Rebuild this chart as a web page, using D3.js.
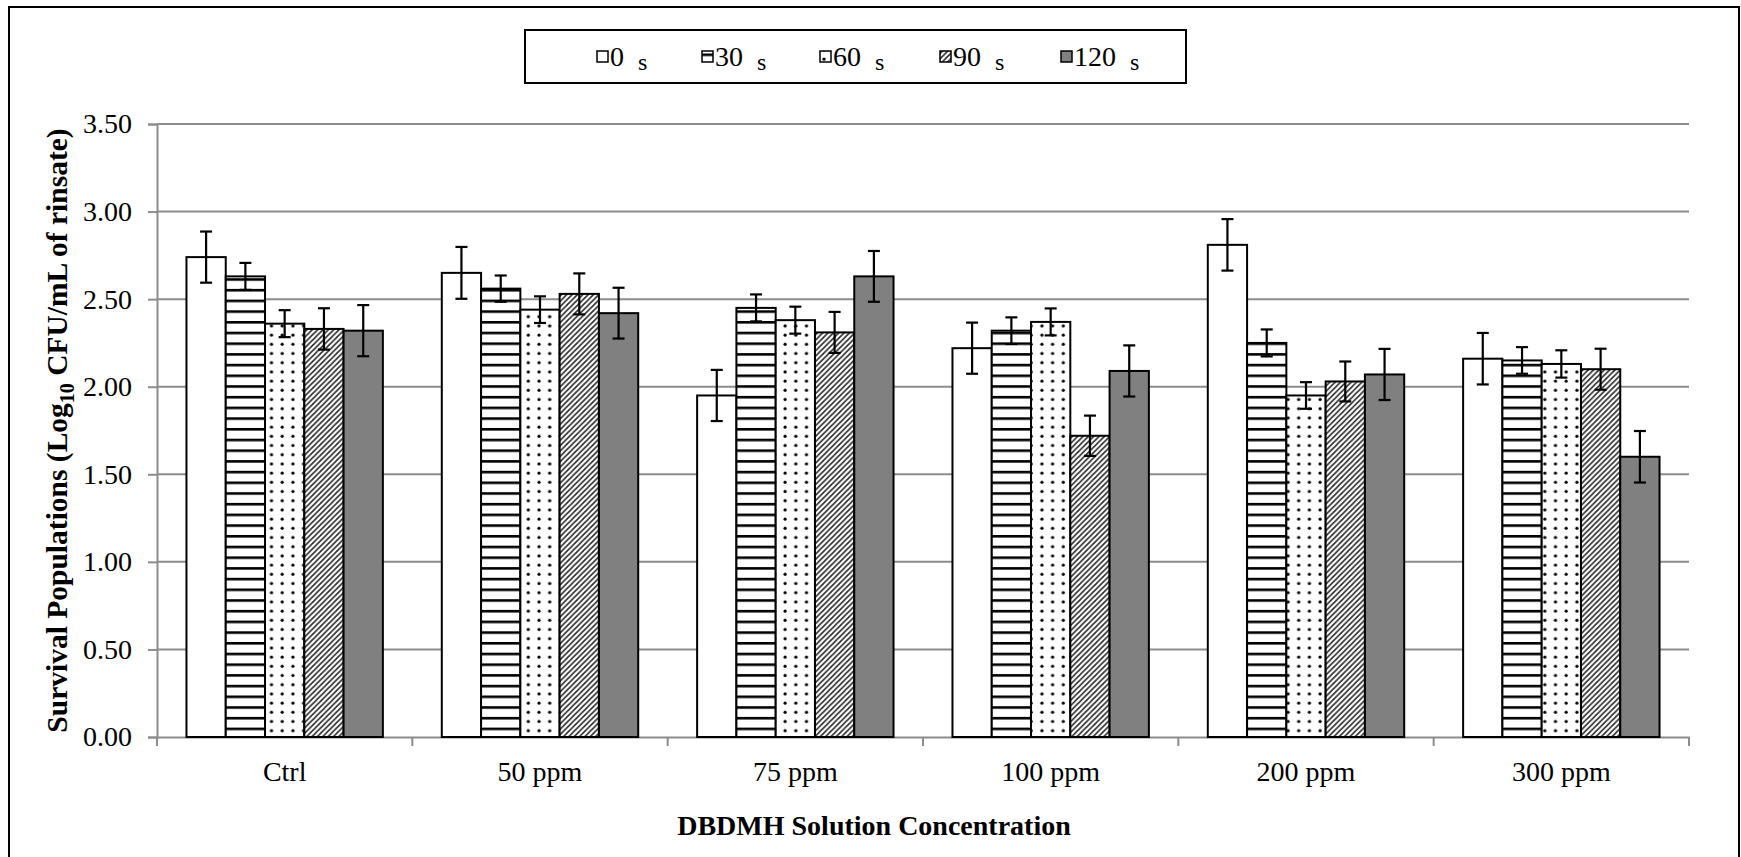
<!DOCTYPE html>
<html>
<head>
<meta charset="utf-8">
<script src="https://cdn.jsdelivr.net/npm/d3@7"></script>
<style>
  body { margin: 0; background: #fff; }
  svg text { font-family: "Liberation Serif", "Tinos", "Times New Roman", "DejaVu Serif", serif !important; }
</style>
</head>
<body>
<svg></svg>
<script>
// data
var categories = ["Ctrl", "50 ppm", "75 ppm", "100 ppm", "200 ppm", "300 ppm"];
var seriesNames = ["0", "30", "60", "90", "120"];
var yTicks = [0, 0.5, 1, 1.5, 2, 2.5, 3, 3.5];

var mean0   = [2.74, 2.65, 1.95, 2.22, 2.81, 2.16];
var mean30  = [2.63, 2.56, 2.45, 2.32, 2.25, 2.15];
var mean60  = [2.36, 2.44, 2.38, 2.37, 1.95, 2.13];
var mean90  = [2.33, 2.53, 2.31, 1.72, 2.03, 2.10];
var mean120 = [2.32, 2.42, 2.63, 2.09, 2.07, 1.60];

var err0   = [0.146, 0.148, 0.146, 0.146, 0.147, 0.147];
var err30  = [0.077, 0.075, 0.077, 0.076, 0.077, 0.076];
var err60  = [0.077, 0.076, 0.077, 0.077, 0.076, 0.078];
var err90  = [0.118, 0.117, 0.117, 0.115, 0.114, 0.117];
var err120 = [0.146, 0.145, 0.145, 0.146, 0.146, 0.147];

var allMeans = [mean0, mean30, mean60, mean90, mean120];
var allErrs = [err0, err30, err60, err90, err120];
var fills = ["#fff", "url(#pHoriz)", "url(#pDots)", "url(#pDiag)", "#808080"];

var serif = "'Liberation Serif', 'Tinos', 'Times New Roman', 'DejaVu Serif', serif";

var width = 1741, height = 857;
var svg = d3.select("svg").attr("width", width).attr("height", height)
    .attr("font-family", serif);

var margin = {left: 157, right: 52, top: 124, bottom: 120};

var x0 = d3.scaleBand()
    .domain(categories)
    .range([margin.left, width - margin.right])
    .paddingInner(0).paddingOuter(0);

var x1 = d3.scaleBand()
    .domain(seriesNames)
    .range([0, x0.bandwidth()])
    .paddingInner(0).paddingOuter(0.75);

var y = d3.scaleLinear()
    .domain([0, 3.5])
    .range([height - margin.bottom, margin.top]);

// patterns
var defs = svg.append("defs");

var ph = defs.append("pattern").attr("id", "pHoriz")
    .attr("patternUnits", "userSpaceOnUse").attr("width", 10).attr("height", 10.7);
ph.append("rect").attr("width", 10).attr("height", 10.7).attr("fill", "#fff");
ph.append("rect").attr("y", 0).attr("width", 10).attr("height", 2.6).attr("fill", "#000");

var pd = defs.append("pattern").attr("id", "pDots")
    .attr("patternUnits", "userSpaceOnUse").attr("width", 10.7).attr("height", 9.2);
pd.append("rect").attr("width", 10.7).attr("height", 9.2).attr("fill", "#fff");
pd.append("circle").attr("cx", 4).attr("cy", 4).attr("r", 1.6).attr("fill", "#000");

var pg = defs.append("pattern").attr("id", "pDiag")
    .attr("patternUnits", "userSpaceOnUse").attr("width", 5.35).attr("height", 5.35);
pg.append("rect").attr("width", 5.35).attr("height", 5.35).attr("fill", "#fff");
pg.append("path")
    .attr("d", "M-1.34,1.34 L1.34,-1.34 M0,5.35 L5.35,0 M4,6.69 L6.69,4")
    .attr("stroke", "#222").attr("stroke-width", 1.5);

// outer frame
svg.append("rect")
    .attr("x", 9).attr("y", 7)
    .attr("width", 1730).attr("height", 880)
    .attr("fill", "none").attr("stroke", "#000").attr("stroke-width", 2);

// gridlines
svg.append("g").selectAll("line")
    .data(yTicks.filter(d => d > 0))
    .join("line")
    .attr("x1", margin.left).attr("x2", width - margin.right)
    .attr("y1", d => y(d)).attr("y2", d => y(d))
    .attr("stroke", "#8c8c8c").attr("stroke-width", 2);

// y axis
var yAxis = svg.append("g")
    .attr("transform", "translate(" + margin.left + ",0)")
    .call(d3.axisLeft(y).tickValues(yTicks).tickFormat(d3.format(".2f")).tickSize(9).tickPadding(16))
    .attr("font-family", serif).attr("font-size", 28);
yAxis.select(".domain").attr("stroke", "#8c8c8c").attr("stroke-width", 2);
yAxis.selectAll(".tick line").attr("stroke", "#8c8c8c").attr("stroke-width", 2);
yAxis.selectAll(".tick text").attr("fill", "#000");

// x axis
var xAxis = svg.append("g")
    .attr("transform", "translate(0," + y(0) + ")")
    .call(d3.axisBottom(x0).tickSize(0).tickPadding(24))
    .attr("font-family", serif).attr("font-size", 28);
xAxis.select(".domain").attr("stroke", "#8c8c8c").attr("stroke-width", 2);
xAxis.selectAll(".tick text").attr("fill", "#000");

var bounds = categories.map(c => x0(c)).concat([x0.range()[1]]);
svg.append("g").selectAll("line")
    .data(bounds)
    .join("line")
    .attr("x1", d => d).attr("x2", d => d)
    .attr("y1", y(0)).attr("y2", y(0) + 9)
    .attr("stroke", "#8c8c8c").attr("stroke-width", 2);

// bars
var rows = [];
categories.forEach(function(c, ci) {
    seriesNames.forEach(function(s, si) {
        rows.push({cat: c, ser: s, si: si, v: allMeans[si][ci], e: allErrs[si][ci]});
    });
});

svg.append("g").selectAll("rect")
    .data(rows)
    .join("rect")
    .attr("x", d => x0(d.cat) + x1(d.ser))
    .attr("y", d => y(d.v))
    .attr("width", x1.bandwidth())
    .attr("height", d => y(0) - y(d.v))
    .attr("fill", d => fills[d.si])
    .attr("stroke", "#000")
    .attr("stroke-width", 2);

// error bars
var eb = svg.append("g").attr("stroke", "#000").attr("stroke-width", 2.2);
var cap = 6;
rows.forEach(function(d) {
    var cx = x0(d.cat) + x1(d.ser) + x1.bandwidth() / 2;
    eb.append("line").attr("x1", cx).attr("x2", cx).attr("y1", y(d.v + d.e)).attr("y2", y(d.v - d.e));
    eb.append("line").attr("x1", cx - cap).attr("x2", cx + cap).attr("y1", y(d.v + d.e)).attr("y2", y(d.v + d.e));
    eb.append("line").attr("x1", cx - cap).attr("x2", cx + cap).attr("y1", y(d.v - d.e)).attr("y2", y(d.v - d.e));
});

// axis titles
svg.append("text")
    .attr("x", 874).attr("y", 835)
    .attr("text-anchor", "middle")
    .attr("font-size", 28).attr("font-weight", "bold")
    .text("DBDMH Solution Concentration");

var yt = svg.append("text")
    .attr("transform", "translate(67," + ((y(0) + y(3.5)) / 2) + ") rotate(-90)")
    .attr("text-anchor", "middle")
    .attr("font-size", 29.5).attr("font-weight", "bold");
yt.append("tspan").text("Survival Populations (Log");
yt.append("tspan").attr("dy", 7).attr("font-size", 20).text("10");
yt.append("tspan").attr("dy", -7).text(" CFU/mL of rinsate)");

// legend
svg.append("rect")
    .attr("x", 525).attr("y", 30).attr("width", 661).attr("height", 53)
    .attr("fill", "#fff").attr("stroke", "#000").attr("stroke-width", 2);

var legendX = [597, 702, 820, 940, 1061];
var lg = svg.append("g").selectAll("g")
    .data(seriesNames)
    .join("g")
    .attr("transform", (d, i) => "translate(" + legendX[i] + ",0)");
lg.append("rect")
    .attr("x", 0).attr("y", 51).attr("width", 11).attr("height", 11)
    .attr("fill", (d, i) => fills[i]).attr("stroke", "#000").attr("stroke-width", 1.5);
var lt = lg.append("text").attr("x", 13).attr("y", 66).attr("font-size", 28);
lt.append("tspan").text(d => d);
lt.append("tspan").attr("dx", 14).attr("dy", 4).attr("font-size", 24).text("s");
</script>
</body>
</html>
